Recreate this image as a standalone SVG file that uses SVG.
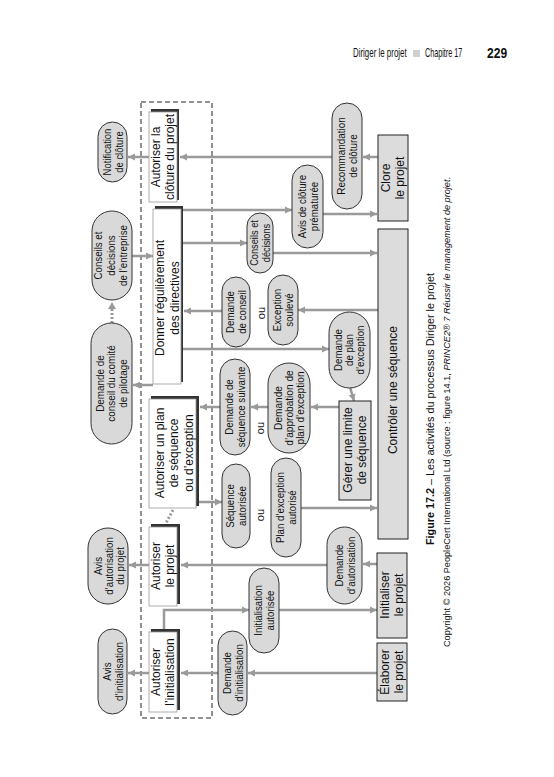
<svg xmlns="http://www.w3.org/2000/svg" width="554" height="777" viewBox="0 0 554 777">
<style>
  .t { font-family: "Liberation Sans", Arial, sans-serif; fill: #111; text-anchor: middle; }
  .bt { font-size: 12px; }
  .ct { font-size: 11px; }
  .wbox { fill: #fff; stroke: #999; stroke-width: 0.8; }
  .shadow { fill: #333; }
  .gbox { fill: #dcdcdc; stroke: #222; stroke-width: 1; }
  .cap { fill: #d9d9d9; stroke: #333; stroke-width: 1; }
  .conn { stroke: #9a9a9a; stroke-width: 2.5; fill: none; }
  .arr { marker-end: url(#ah); }
  .dot { stroke: #9a9a9a; stroke-width: 3; stroke-dasharray: 2 2; fill: none; }
  .hdr { font-family: "Liberation Sans", Arial, sans-serif; fill: #111; }
</style>
<defs>
  <marker id="ah" markerUnits="userSpaceOnUse" markerWidth="8" markerHeight="8" refX="7" refY="4" orient="auto">
    <path d="M0,0.5 L7,4 L0,7.5 z" fill="#9a9a9a"/>
  </marker>
</defs>
<rect width="554" height="777" fill="#fff"/>

<!-- header -->
<g id="header">
  <text class="hdr" transform="translate(353,57) scale(0.66,1)" font-size="12">Diriger le projet</text>
  <rect x="413" y="50" width="7" height="7" fill="#cfcfcf"/>
  <text class="hdr" transform="translate(425,57) scale(0.6,1)" font-size="12">Chapitre 17</text>
  <text class="hdr" transform="translate(487,58) scale(0.86,1)" font-size="14" font-weight="bold">229</text>
</g>

<!-- dashed boundary -->
<rect id="boundary" x="141" y="102" width="71" height="616" fill="none" stroke="#222" stroke-width="1" stroke-dasharray="5 3"/>

<!-- connectors -->
<g id="connectors">
  <line class="conn arr" x1="378" y1="157" x2="363" y2="157"/>
  <line class="conn arr" x1="332" y1="157" x2="180" y2="157"/>
  <line class="conn arr" x1="149" y1="157" x2="128" y2="157"/>
  <line class="conn arr" x1="183" y1="210" x2="292" y2="210"/>
  <line class="conn arr" x1="323" y1="214" x2="377" y2="214"/>
  <line class="conn arr" x1="183" y1="243" x2="247" y2="243"/>
  <line class="conn arr" x1="273" y1="253" x2="377" y2="253"/>
  <line class="conn arr" x1="132" y1="256" x2="153" y2="256"/>
  <line class="conn arr" x1="222" y1="311" x2="184" y2="311"/>
  <line class="conn arr" x1="378" y1="310" x2="298" y2="310"/>
  <line class="conn arr" x1="183" y1="349" x2="329" y2="349"/>
  <line class="conn arr" x1="350" y1="387" x2="354" y2="401"/>
  <line class="conn arr" x1="339" y1="407" x2="311" y2="407"/>
  <line class="conn arr" x1="268" y1="407" x2="251" y2="407"/>
  <line class="conn arr" x1="220" y1="407" x2="200" y2="407"/>
  <line class="conn arr" x1="153" y1="385" x2="133" y2="385"/>
  <line class="dot" x1="112" y1="323" x2="112" y2="308"/>
  <path d="M108,309 L112,302 L116,309 z" fill="#9a9a9a"/>
  <line class="conn arr" x1="199" y1="502" x2="222" y2="502"/>
  <line class="conn arr" x1="301" y1="508" x2="377" y2="508"/>
  <line class="dot" x1="173" y1="510" x2="166" y2="523" stroke-width="2"/>
  <line class="conn arr" x1="377" y1="564" x2="363" y2="564"/>
  <line class="conn arr" x1="327" y1="565" x2="181" y2="565"/>
  <line class="conn arr" x1="149" y1="565" x2="129" y2="565"/>
  <path class="conn arr" d="M164,629 L164,610 L249,610"/>
  <line class="conn arr" x1="279" y1="610" x2="377" y2="610"/>
  <line class="conn arr" x1="377" y1="673" x2="248" y2="673"/>
  <line class="conn arr" x1="218" y1="673" x2="181" y2="673"/>
  <line class="conn arr" x1="149" y1="673" x2="128" y2="673"/>
</g>

<!-- white process boxes (Diriger le projet) -->
<g id="autoriser-cloture">
  <rect class="shadow" x="151" y="109" width="28" height="91"/>
  <rect class="wbox" x="149" y="112" width="28" height="90"/>
  <text class="t bt" transform="translate(163,157) rotate(-90)"><tspan x="0" y="-2.8">Autoriser la</tspan><tspan x="0" y="11.2">clôture du projet</tspan></text>
</g>
<g id="donner-directives">
  <rect class="shadow" x="155" y="206" width="28" height="176"/>
  <rect class="wbox" x="153" y="209" width="28" height="175"/>
  <text class="t bt" transform="translate(167,298) rotate(-90)"><tspan x="0" y="-3.3">Donner régulièrement</tspan><tspan x="0" y="11.7">des directives</tspan></text>
</g>
<g id="autoriser-plan">
  <rect class="shadow" x="151" y="396" width="48" height="110"/>
  <rect class="wbox" x="149" y="399" width="47" height="109"/>
  <text class="t bt" transform="translate(174,453) rotate(-90)"><tspan x="0" y="-10.3">Autoriser un plan</tspan><tspan x="0" y="4.2">de séquence</tspan><tspan x="0" y="18.7">ou d’exception</tspan></text>
</g>
<g id="autoriser-projet">
  <rect class="shadow" x="151" y="524" width="29" height="80"/>
  <rect class="wbox" x="149" y="527" width="28" height="79"/>
  <text class="t bt" transform="translate(163,566) rotate(-90)"><tspan x="0" y="-2.8">Autoriser</tspan><tspan x="0" y="11.2">le projet</tspan></text>
</g>
<g id="autoriser-initialisation">
  <rect class="shadow" x="151" y="629" width="29" height="81"/>
  <rect class="wbox" x="149" y="632" width="28" height="80"/>
  <text class="t bt" transform="translate(163,672) rotate(-90)"><tspan x="0" y="-2.8">Autoriser</tspan><tspan x="0" y="11.2">l’initialisation</tspan></text>
</g>

<!-- gray process boxes -->
<g id="clore-projet">
  <rect class="gbox" x="378" y="135" width="30" height="86"/>
  <text class="t bt" transform="translate(393,178) rotate(-90)"><tspan x="0" y="-2.8">Clore</tspan><tspan x="0" y="11.2">le projet</tspan></text>
</g>
<g id="controler-sequence">
  <rect class="gbox" x="378" y="229" width="30" height="310"/>
  <text class="t bt" transform="translate(393,390) rotate(-90)"><tspan x="0" y="4.2">Contrôler une séquence</tspan></text>
</g>
<g id="gerer-limite">
  <rect class="gbox" x="339" y="401" width="32" height="99"/>
  <text class="t bt" transform="translate(355,450) rotate(-90)"><tspan x="0" y="-2.8">Gérer une limite</tspan><tspan x="0" y="11.2">de séquence</tspan></text>
</g>
<g id="initialiser-projet">
  <rect class="gbox" x="377" y="553" width="30" height="85"/>
  <text class="t bt" transform="translate(392,595) rotate(-90)"><tspan x="0" y="-2.8">Initialiser</tspan><tspan x="0" y="11.2">le projet</tspan></text>
</g>
<g id="elaborer-projet">
  <rect class="gbox" x="377" y="643" width="30" height="58"/>
  <text class="t bt" transform="translate(392,672) rotate(-90)"><tspan x="0" y="-2.8">Élaborer</tspan><tspan x="0" y="11.2">le projet</tspan></text>
</g>

<!-- capsules -->
<g id="notification-cloture">
  <rect class="cap" x="98" y="122" width="29" height="60" rx="14.5" ry="14.5"/>
  <text class="t ct" transform="translate(112.5,152) rotate(-90) scale(0.86,1)"><tspan x="0" y="-1.7">Notification</tspan><tspan x="0" y="10.3">de clôture</tspan></text>
</g>
<g id="conseils-entreprise">
  <rect class="cap" x="92" y="211" width="40" height="89" rx="20" ry="20"/>
  <text class="t ct" transform="translate(111,255.5) rotate(-90) scale(0.88,1)"><tspan x="0" y="-8.7">Conseils et</tspan><tspan x="0" y="3.8">décisions</tspan><tspan x="0" y="16.3">de l’entreprise</tspan></text>
</g>
<g id="demande-conseil-comite">
  <rect class="cap" x="91" y="323" width="41" height="121" rx="20.5" ry="20.5"/>
  <text class="t ct" transform="translate(111.5,383.5) rotate(-90) scale(0.9,1)"><tspan x="0" y="-7.7">Demande de</tspan><tspan x="0" y="3.8">conseil du comité</tspan><tspan x="0" y="15.3">de pilotage</tspan></text>
</g>
<g id="avis-autorisation">
  <rect class="cap" x="88" y="528" width="40" height="76" rx="20" ry="20"/>
  <text class="t ct" transform="translate(109,566) rotate(-90) scale(0.88,1)"><tspan x="0" y="-7.2">Avis</tspan><tspan x="0" y="3.8">d’autorisation</tspan><tspan x="0" y="14.8">du projet</tspan></text>
</g>
<g id="avis-initialisation">
  <rect class="cap" x="98" y="629" width="29" height="85" rx="14.5" ry="14.5"/>
  <text class="t ct" transform="translate(112.5,671.5) rotate(-90) scale(0.9,1)"><tspan x="0" y="-1.7">Avis</tspan><tspan x="0" y="10.3">d’initialisation</tspan></text>
</g>
<g id="conseils-decisions">
  <rect class="cap" x="247" y="213" width="26" height="60" rx="13" ry="13"/>
  <text class="t ct" transform="translate(260,243) rotate(-90) scale(0.84,1)"><tspan x="0" y="-1.7">Conseils et</tspan><tspan x="0" y="10.3">décisions</tspan></text>
</g>
<g id="avis-cloture-prematuree">
  <rect class="cap" x="292" y="165" width="31" height="83" rx="15.5" ry="15.5"/>
  <text class="t ct" transform="translate(307.5,206.5) rotate(-90) scale(0.88,1)"><tspan x="0" y="-1.7">Avis de clôture</tspan><tspan x="0" y="10.3">prématurée</tspan></text>
</g>
<g id="recommandation-cloture">
  <rect class="cap" x="332" y="103" width="30" height="106" rx="15" ry="15"/>
  <text class="t ct" transform="translate(347,156) rotate(-90) scale(0.9,1)"><tspan x="0" y="-1.7">Recommandation</tspan><tspan x="0" y="10.3">de clôture</tspan></text>
</g>
<g id="demande-conseil">
  <rect class="cap" x="222" y="277" width="28" height="70" rx="14" ry="14"/>
  <text class="t ct" transform="translate(236,312) rotate(-90) scale(0.88,1)"><tspan x="0" y="-1.7">Demande</tspan><tspan x="0" y="10.3">de conseil</tspan></text>
</g>
<text class="t ct" transform="translate(261,313) rotate(-90)" y="3.8">ou</text>
<g id="exception-soulevee">
  <rect class="cap" x="268" y="275" width="30" height="70" rx="15" ry="15"/>
  <text class="t ct" transform="translate(283,310) rotate(-90) scale(0.88,1)"><tspan x="0" y="-1.7">Exception</tspan><tspan x="0" y="10.3">soulevé</tspan></text>
</g>
<g id="demande-plan-exception">
  <rect class="cap" x="329" y="312" width="41" height="76" rx="20.5" ry="20.5"/>
  <text class="t ct" transform="translate(349.5,350) rotate(-90) scale(0.88,1)"><tspan x="0" y="-7.2">Demande</tspan><tspan x="0" y="3.8">de plan</tspan><tspan x="0" y="14.8">d’exception</tspan></text>
</g>
<g id="demande-sequence-suivante">
  <rect class="cap" x="220" y="359" width="30" height="96" rx="15" ry="15"/>
  <text class="t ct" transform="translate(235,407) rotate(-90) scale(0.88,1)"><tspan x="0" y="-1.7">Demande  de</tspan><tspan x="0" y="10.3">séquence suivante</tspan></text>
</g>
<text class="t ct" transform="translate(260,428) rotate(-90)" y="3.8">ou</text>
<g id="demande-approbation">
  <rect class="cap" x="268" y="363" width="42" height="90" rx="21" ry="21"/>
  <text class="t ct" transform="translate(289,408) rotate(-90) scale(0.92,1)"><tspan x="0" y="-7.2">Demande</tspan><tspan x="0" y="3.8">d’approbation de</tspan><tspan x="0" y="14.8">plan d’exception</tspan></text>
</g>
<g id="sequence-autorisee">
  <rect class="cap" x="222" y="464" width="28" height="84" rx="14" ry="14"/>
  <text class="t ct" transform="translate(236,506) rotate(-90) scale(0.88,1)"><tspan x="0" y="-1.7">Séquence</tspan><tspan x="0" y="10.3">autorisée</tspan></text>
</g>
<text class="t ct" transform="translate(260,515) rotate(-90)" y="3.8">ou</text>
<g id="plan-exception-autorise">
  <rect class="cap" x="271" y="458" width="30" height="99" rx="15" ry="15"/>
  <text class="t ct" transform="translate(286,507.5) rotate(-90) scale(0.88,1)"><tspan x="0" y="-1.7">Plan d’exception</tspan><tspan x="0" y="10.3">autorisé</tspan></text>
</g>
<g id="demande-autorisation">
  <rect class="cap" x="327" y="527" width="35" height="77" rx="17.5" ry="17.5"/>
  <text class="t ct" transform="translate(344.5,565.5) rotate(-90) scale(0.88,1)"><tspan x="0" y="-1.7">Demande</tspan><tspan x="0" y="10.3">d’autorisation</tspan></text>
</g>
<g id="initialisation-autorisee">
  <rect class="cap" x="249" y="568" width="30" height="85" rx="15" ry="15"/>
  <text class="t ct" transform="translate(264,610.5) rotate(-90) scale(0.88,1)"><tspan x="0" y="-1.7">Initialisation</tspan><tspan x="0" y="10.3">autorisée</tspan></text>
</g>
<g id="demande-initialisation">
  <rect class="cap" x="218" y="631" width="29" height="84" rx="14.5" ry="14.5"/>
  <text class="t ct" transform="translate(232.5,673) rotate(-90) scale(0.88,1)"><tspan x="0" y="-1.7">Demande</tspan><tspan x="0" y="10.3">d’initialisation</tspan></text>
</g>

<!-- caption -->
<g id="caption">
  <text class="hdr" transform="translate(434,545) rotate(-90)" font-size="11" textLength="272" lengthAdjust="spacingAndGlyphs"><tspan font-weight="bold">Figure 17.2</tspan> – Les activités du processus Diriger le projet</text>
  <text class="hdr" transform="translate(450,647) rotate(-90)" font-size="9" textLength="470" lengthAdjust="spacingAndGlyphs">Copyright © 2026 PeopleCert International Ltd (source : figure 14.1, <tspan font-style="italic">PRINCE2® 7 Réussir le management de projet</tspan>.</text>
</g>
</svg>
